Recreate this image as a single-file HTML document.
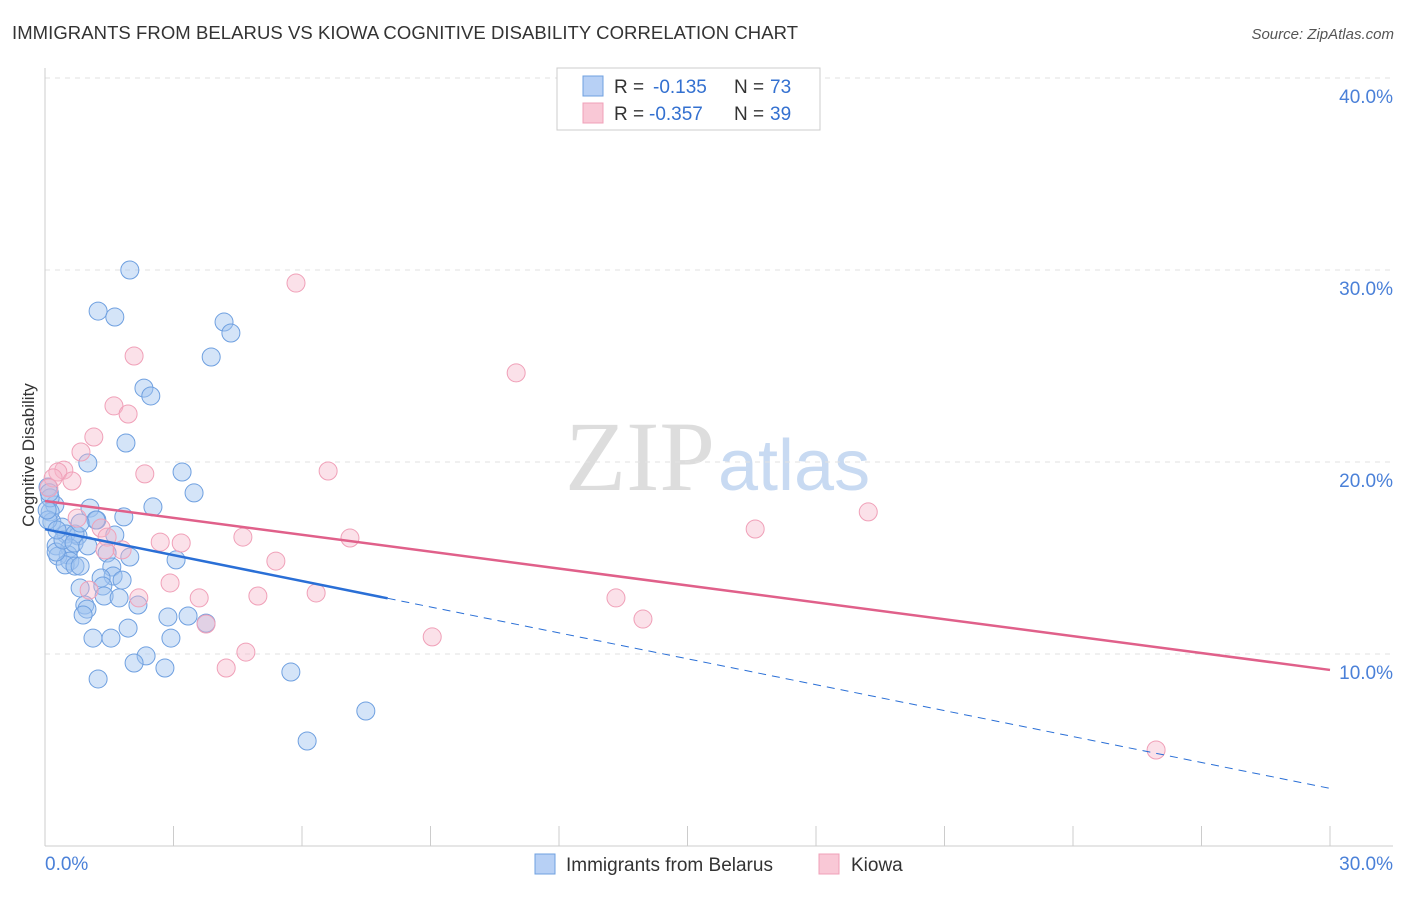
<!DOCTYPE html>
<html><head><meta charset="utf-8"><style>
body{margin:0;background:#fff;font-family:"Liberation Sans",sans-serif;}
</style></head><body>
<svg id="chart" width="1406" height="892" xmlns="http://www.w3.org/2000/svg">
<text x="12" y="39" font-size="18.5" fill="#333" textLength="786">IMMIGRANTS FROM BELARUS VS KIOWA COGNITIVE DISABILITY CORRELATION CHART</text>
<text x="1394" y="39" font-size="15" fill="#555" font-style="italic" text-anchor="end">Source: ZipAtlas.com</text>
<text x="715" y="490" font-size="100" fill="#ddd" font-family="Liberation Serif,serif" text-anchor="end">ZIP</text>
<text x="718" y="490" font-size="72" fill="#c8daf2">atlas</text>
<g id="grid"></g>
<g id="axes"></g>
<g id="pts"></g>
<g id="lines"></g>
<text x="34" y="455" font-size="17" fill="#333" text-anchor="middle" transform="rotate(-90 34 455)">Cognitive Disability</text>
<g>
<rect x="557" y="68" width="263" height="62" fill="#fff" stroke="#ccc"/>
<rect x="583" y="76" width="20" height="20" fill="#b7d0f5" stroke="#6fa0e0"/>
<rect x="583" y="103" width="20" height="20" fill="#f9c8d6" stroke="#f0a0b8"/>
<text x="614" y="93" font-size="19" fill="#333">R =</text>
<text x="653" y="93" font-size="19" fill="#3370d0">-0.135</text>
<text x="734" y="93" font-size="19" fill="#333">N =</text>
<text x="770" y="93" font-size="19" fill="#3370d0">73</text>
<text x="614" y="120" font-size="19" fill="#333">R =</text>
<text x="649" y="120" font-size="19" fill="#3370d0">-0.357</text>
<text x="734" y="120" font-size="19" fill="#333">N =</text>
<text x="770" y="120" font-size="19" fill="#3370d0">39</text>
</g>
<g>
<rect x="535" y="854" width="20" height="20" fill="#b7d0f5" stroke="#6fa0e0"/>
<text x="566" y="871" font-size="19" fill="#333">Immigrants from Belarus</text>
<rect x="819" y="854" width="20" height="20" fill="#f9c8d6" stroke="#f0a0b8"/>
<text x="851" y="871" font-size="19" fill="#333">Kiowa</text>
</g>
</svg>
<script>
const blueX=[1.98,1.24,1.63,4.18,4.34,3.88,2.31,2.47,1.89,1.00,3.20,3.48,2.52,1.05,1.84,1.21,0.23,0.12,0.16,0.40,0.49,0.77,1.63,1.19,0.70,0.26,0.58,0.54,0.30,0.58,0.47,0.70,0.82,1.45,1.98,3.06,1.56,1.59,1.80,1.31,0.82,1.35,1.38,1.73,2.17,0.93,0.98,0.89,2.87,3.34,3.76,1.94,1.12,1.54,2.94,2.36,2.08,2.80,5.74,1.24,7.49,6.12,0.07,0.12,0.07,0.26,0.42,0.28,0.82,0.05,0.68,1.00,0.1];
const blueY=[30.0,27.86,27.55,27.29,26.72,25.47,23.85,23.44,20.99,19.95,19.48,18.39,17.66,17.60,17.14,16.98,17.76,17.40,16.88,16.61,16.25,16.15,16.20,16.98,16.25,15.63,15.52,15.16,15.10,14.84,14.64,14.58,14.58,15.26,15.05,14.90,14.53,14.06,13.85,13.96,13.44,13.54,13.02,12.92,12.55,12.55,12.34,12.03,11.93,11.98,11.61,11.35,10.83,10.83,10.83,9.90,9.53,9.27,9.06,8.70,7.03,5.47,18.70,18.13,16.98,15.31,15.94,16.46,16.82,17.50,15.78,15.63,18.4];
const pinkX=[5.86,2.08,11.00,1.61,1.94,1.14,0.84,0.44,0.30,0.63,2.33,6.61,0.19,0.09,19.22,16.58,1.31,4.62,2.69,3.18,7.12,1.45,1.80,1.40,5.39,2.92,6.33,1.03,3.60,4.97,2.19,13.33,13.96,3.76,9.04,4.69,4.23,25.94,0.75];
const pinkY=[29.32,25.52,24.64,22.92,22.50,21.30,20.52,19.58,19.48,19.01,19.38,19.53,19.17,18.65,17.40,16.51,16.56,16.09,15.83,15.78,16.04,16.09,15.42,15.42,14.84,13.70,13.18,13.33,12.92,13.02,12.92,12.92,11.82,11.56,10.89,10.10,9.27,5.00,17.08];
const yTicks=[10,20,30,40];
const yTickLabels=["10.0%","20.0%","30.0%","40.0%"];
const blueTrend=[16.5,3.0];
const pinkTrend=[17.97,9.17];
const blueSolidEnd=8.0;
const NS="http://www.w3.org/2000/svg";
const sx=v=>45+v*1285/30, sy=v=>846-v*19.2;
function mk(tag,attrs,parent){const e=document.createElementNS(NS,tag);for(const k in attrs)e.setAttribute(k,attrs[k]);parent.appendChild(e);return e;}
const grid=document.getElementById('grid'),axes=document.getElementById('axes'),pts=document.getElementById('pts'),lines=document.getElementById('lines');
yTicks.forEach((t,i)=>{
 const g=mk('line',{x1:45,x2:1393,y1:sy(t),y2:sy(t),stroke:'#e2e2e2','stroke-dasharray':'5,5'},grid);
 
 
 const l=mk('text',{x:1393,y:sy(t)+25,'font-size':19,fill:'#4a80d8','text-anchor':'end'},axes);
 l.textContent=yTickLabels[i];
 
 
});
mk('line',{x1:45,x2:45,y1:68,y2:846,stroke:'#ccc'},axes);
mk('line',{x1:45,x2:1393,y1:846,y2:846,stroke:'#ccc'},axes);
for(let i=0;i<=10;i++){const x=sx(i*3);const t=mk('line',{x1:x,x2:x,y1:826,y2:846,stroke:'#ccc'},axes);
 
 }
const x0=mk('text',{x:45,y:870,'font-size':19,fill:'#4a80d8'},axes);x0.textContent='0.0%';


const x1=mk('text',{x:1393,y:870,'font-size':19,fill:'#4a80d8','text-anchor':'end'},axes);x1.textContent='30.0%';


blueX.forEach((v,i)=>{const c=mk('circle',{cx:sx(v),cy:sy(blueY[i]),r:9,fill:'rgba(160,196,240,0.45)',stroke:'#6fa0e0','stroke-width':1},pts);
 
 });
pinkX.forEach((v,i)=>{const c=mk('circle',{cx:sx(v),cy:sy(pinkY[i]),r:9,fill:'rgba(245,180,200,0.4)',stroke:'#f0a0b8','stroke-width':1},pts);
 
 });
const by=x=>blueTrend[0]+(blueTrend[1]-blueTrend[0])*x/30;
const bl=mk('line',{x1:sx(0),y1:sy(by(0)),x2:sx(blueSolidEnd),y2:sy(by(blueSolidEnd)),stroke:'#2a6fd6','stroke-width':2.5},lines);


const bd=mk('line',{x1:sx(blueSolidEnd),y1:sy(by(blueSolidEnd)),x2:sx(30),y2:sy(by(30)),stroke:'#2a6fd6','stroke-width':1,'stroke-dasharray':'8,6'},lines);


const pl=mk('line',{x1:sx(0),y1:sy(pinkTrend[0]),x2:sx(30),y2:sy(pinkTrend[1]),stroke:'#e0608a','stroke-width':2.5},lines);


</script>
</body></html>
